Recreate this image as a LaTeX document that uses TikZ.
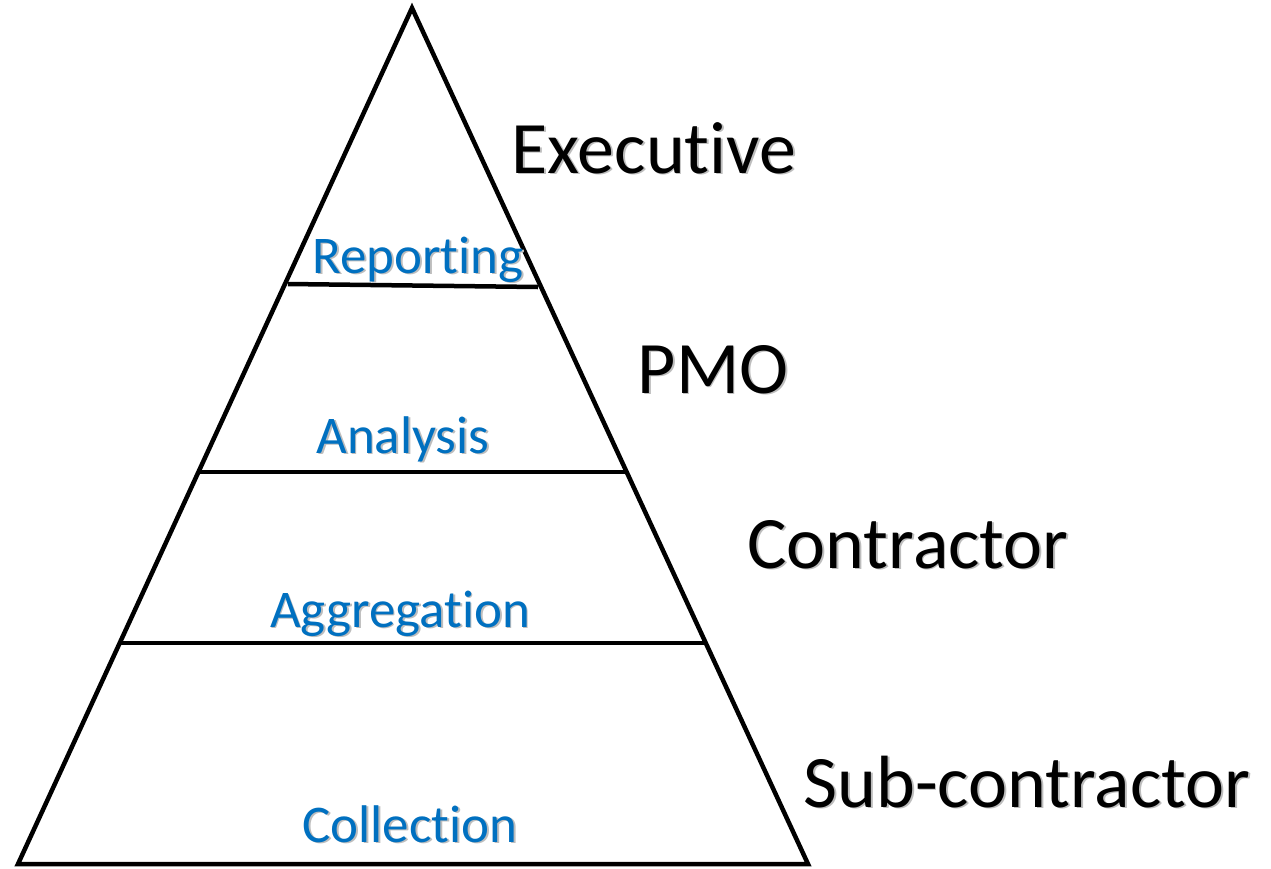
\documentclass[tikz,border=0pt]{standalone}
\usepackage{fontspec}
\setmainfont[Ligatures={NoCommon,NoContextual}]{Carlito}
\usetikzlibrary{calc}
\definecolor{lblue}{HTML}{0070C0}
\definecolor{shade}{HTML}{BDBDBD}
\tikzset{
  edge/.style={line width=4.5pt, line join=miter},
  big/.style={font=\fontsize{74}{74}\selectfont, anchor=base, inner sep=0pt},
  small/.style={font=\fontsize{53}{53}\selectfont, anchor=base, inner sep=0pt},
}
\newcommand\shlabel[5]{%
  \node[#1, text=shade] (#2s) at ($(#3)+(1.8,1.8)$) {#5};
  \node[#1, text=#4] (#2) at (#3) {#5};
}
\begin{document}
\begin{tikzpicture}[x=1pt,y=-1pt]
\useasboundingbox (0,0) rectangle (1271,868);
\coordinate (apex) at (412,8);
\coordinate (bl) at (18,864);
\coordinate (br) at (808,864);
\draw[edge] (apex) -- (bl) -- (br) -- cycle;
\coordinate (l1) at (288,284); \coordinate (r1) at (538,287);
\coordinate (l2) at (199,472); \coordinate (r2) at (627,472);
\coordinate (l3) at (121,643); \coordinate (r3) at (705,643);
\draw[edge] (l1) -- (r1);
\draw[edge] (l2) -- (r2);
\draw[edge] (l3) -- (r3);
\coordinate (pexe) at (654,173);
\coordinate (ppmo) at (713,393);
\coordinate (pcon) at (908,568);
\coordinate (psub) at (1027,807);
\coordinate (prep) at (418,273);
\coordinate (pana) at (403,453);
\coordinate (pagg) at (400,627);
\coordinate (pcol) at (410,842);
\shlabel{big}{exe}{pexe}{black}{Executive}
\shlabel{big}{pmo}{ppmo}{black}{PMO}
\shlabel{big}{con}{pcon}{black}{Contractor}
\shlabel{big}{sub}{psub}{black}{Sub-contractor}
\shlabel{small}{rep}{prep}{lblue}{Reporting}
\shlabel{small}{ana}{pana}{lblue}{Analysis}
\shlabel{small}{agg}{pagg}{lblue}{Aggregation}
\shlabel{small}{col}{pcol}{lblue}{Collection}
\end{tikzpicture}
\end{document}
